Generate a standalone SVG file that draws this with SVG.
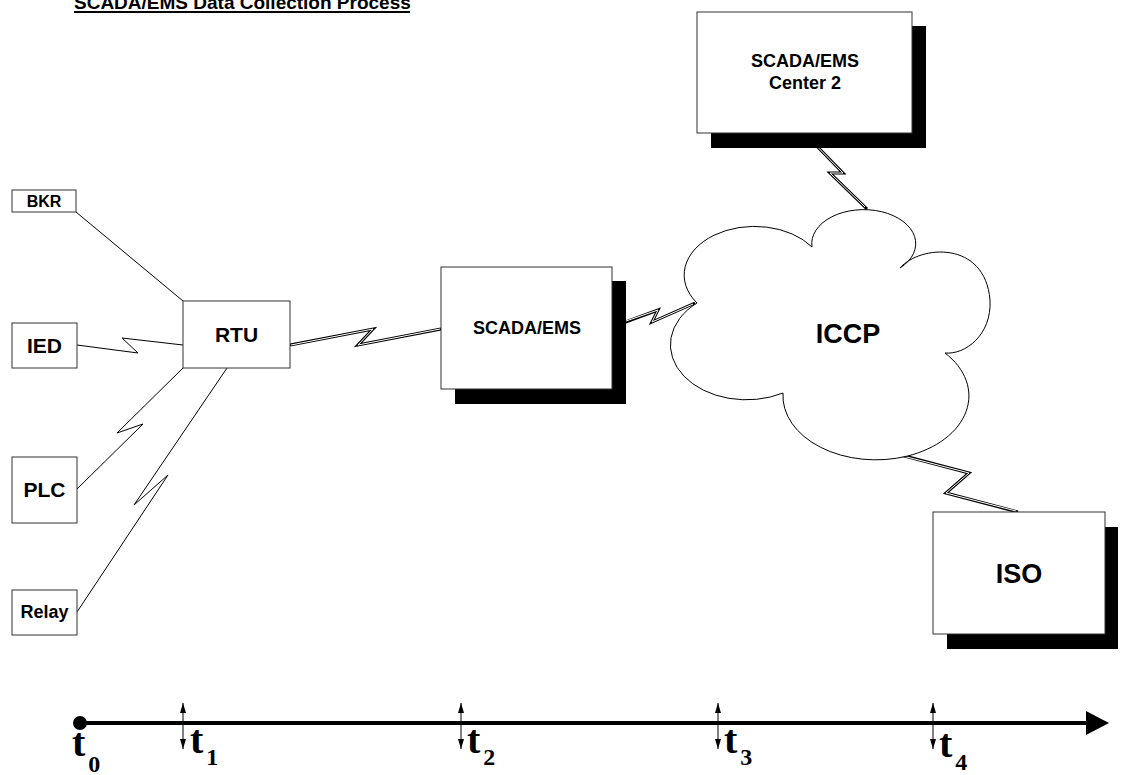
<svg xmlns="http://www.w3.org/2000/svg" width="1128" height="775" viewBox="0 0 1128 775">
<style>
.box{fill:#fff;stroke:#333;stroke-width:1}
.shadow{fill:#000}
.lbl{font-family:"Liberation Sans",Arial,sans-serif;font-weight:bold;fill:#000;text-anchor:middle}
.single{fill:none;stroke:#000;stroke-width:1;stroke-linejoin:miter}
.dblo{fill:none;stroke:#000;stroke-width:3;stroke-linejoin:miter}
.dbli{fill:none;stroke:#fff;stroke-width:1;stroke-linejoin:miter}
.tl{font-family:"Liberation Serif","Times New Roman",serif;font-weight:bold;fill:#000}
</style>
<defs>
<marker id="ah" viewBox="0 0 10 10" refX="10" refY="5" markerWidth="10" markerHeight="10" markerUnits="userSpaceOnUse" orient="auto-start-reverse">
<path d="M0,2 L10,5 L0,8 z" fill="#000"/>
</marker>
</defs>
<rect width="1128" height="775" fill="#fff"/>

<g id="title">
<text x="74" y="9" font-family="'Liberation Sans',Arial,sans-serif" font-weight="bold" font-size="19">SCADA/EMS Data Collection Process</text>
<line x1="74" y1="12" x2="410" y2="12" stroke="#000" stroke-width="2"/>
</g>

<g id="connectors">
<line class="single" x1="76" y1="212" x2="183" y2="301"/>
<polyline class="single" points="77,345 138,353 122,338 183,345"/>
<polyline class="single" points="183,368 117,433 143,424 77,489"/>
<polyline class="single" points="227,368 134,505 168,475 77,612"/>
<polyline class="dblo" points="290,345 373,329 358,345 441,329"/>
<polyline class="dbli" points="291,345 373,329 358,345 440,329"/>
<polyline class="dblo" points="612,327 658,310 652,322 695,303"/>
<polyline class="dbli" points="626,321 658,310 652,322 693,304"/>
<polyline class="dblo" points="805,134 843,173 830,173 867,209"/>
<polyline class="dbli" points="806,135 843,173 830,173 865,207"/>
<polyline class="dblo" points="897,454 969,473 946,493 1018,512"/>
<polyline class="dbli" points="899,455 969,473 946,493 1016,511"/>
</g>

<g id="bkr">
<rect class="box" x="12" y="190" width="64" height="22"/>
<text class="lbl" x="44" y="207" font-size="16">BKR</text>
</g>
<g id="ied">
<rect class="box" x="12" y="323" width="65" height="45"/>
<text class="lbl" x="44.5" y="353" font-size="21">IED</text>
</g>
<g id="plc">
<rect class="box" x="12" y="457" width="65" height="66"/>
<text class="lbl" x="44.5" y="497" font-size="21">PLC</text>
</g>
<g id="relay">
<rect class="box" x="12" y="590" width="65" height="45"/>
<text class="lbl" x="44.5" y="618" font-size="18">Relay</text>
</g>
<g id="rtu">
<rect class="box" x="183" y="301" width="107" height="67"/>
<text class="lbl" x="236.5" y="342" font-size="21">RTU</text>
</g>
<g id="scada">
<rect class="shadow" x="455" y="281" width="171" height="123"/>
<rect class="box" x="441" y="267" width="171" height="122"/>
<text class="lbl" x="527" y="334" font-size="18">SCADA/EMS</text>
</g>
<g id="center2">
<rect class="shadow" x="711" y="26" width="215" height="122"/>
<rect class="box" x="697" y="12" width="215" height="121"/>
<text class="lbl" x="805" y="67" font-size="18">SCADA/EMS</text>
<text class="lbl" x="805" y="89" font-size="18">Center 2</text>
</g>
<g id="iccp">
<path d="M697,303 A68,47 0 1 1 812,247 A52,34 0 1 1 900,268 C920,245 985,240 990,300 C992,335 965,355 945,353 A93,64 0 1 1 783,393 A76,55 0 0 1 697,303 Z" fill="#fff" stroke="#000" stroke-width="1"/>
<text class="lbl" x="848" y="343" font-size="27">ICCP</text>
</g>
<g id="iso">
<rect class="shadow" x="947" y="527" width="171" height="122"/>
<rect class="box" x="933" y="512" width="172" height="122"/>
<text class="lbl" x="1019" y="583" font-size="27">ISO</text>
</g>

<g id="timeline">
<line x1="80" y1="723" x2="1090" y2="723" stroke="#000" stroke-width="4"/>
<polygon points="1086,711 1109,723 1086,735" fill="#000"/>
<circle cx="80" cy="723" r="7" fill="#000"/>
<g stroke="#000" stroke-width="1" marker-start="url(#ah)" marker-end="url(#ah)">
<line x1="183" y1="703" x2="183" y2="749"/>
<line x1="461" y1="703" x2="461" y2="749"/>
<line x1="718" y1="703" x2="718" y2="749"/>
<line x1="933" y1="703" x2="933" y2="749"/>
</g>
<text class="tl" x="72" y="756" font-size="40">t<tspan font-size="24" dx="3" dy="16">0</tspan></text>
<text class="tl" x="190" y="753" font-size="40">t<tspan font-size="24" dx="3" dy="12">1</tspan></text>
<text class="tl" x="467" y="753" font-size="40">t<tspan font-size="24" dx="3" dy="12">2</tspan></text>
<text class="tl" x="724" y="753" font-size="40">t<tspan font-size="24" dx="3" dy="12">3</tspan></text>
<text class="tl" x="939" y="757" font-size="40">t<tspan font-size="24" dx="3" dy="13">4</tspan></text>
</g>
</svg>
